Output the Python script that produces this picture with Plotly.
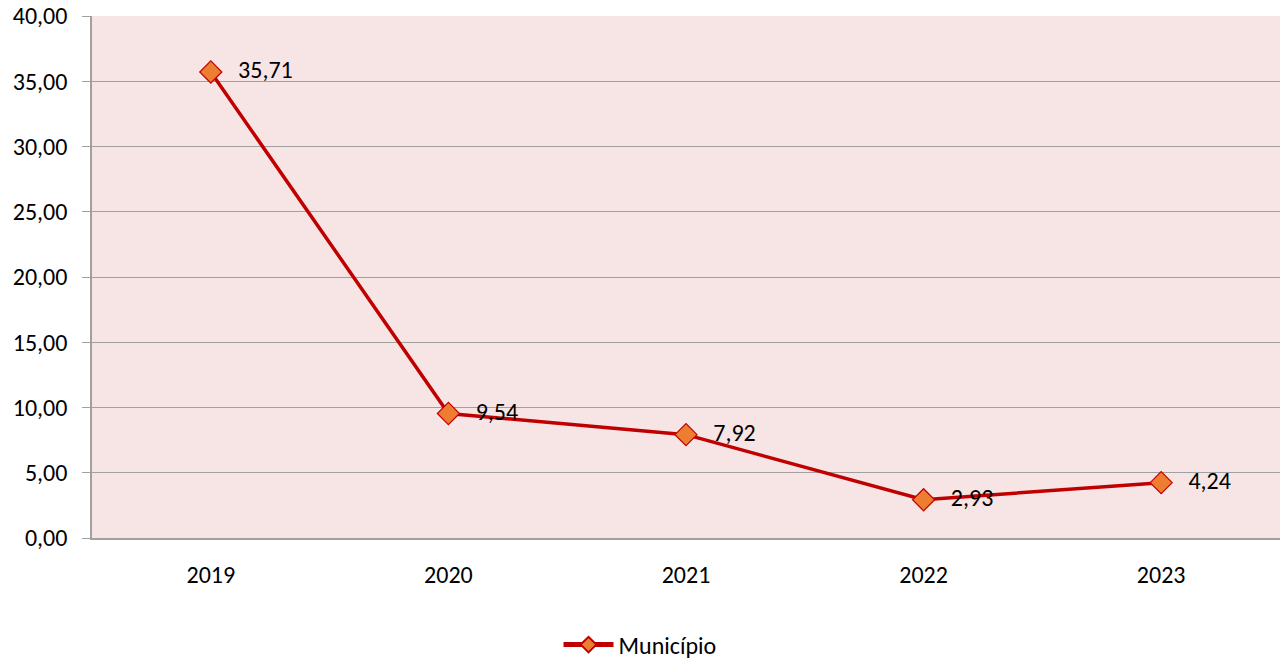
import plotly.graph_objects as go

years = ["2019", "2020", "2021", "2022", "2023"]
values = [35.71, 9.54, 7.92, 2.93, 4.24]
labels = ["35,71", "9,54", "7,92", "2,93", "4,24"]
y_ticks = [0, 5, 10, 15, 20, 25, 30, 35, 40]

fig = go.Figure()
fig.add_trace(go.Scatter(
    x=years, y=values, mode="lines+markers+text", name="Município",
    text=["  \u2009" + t for t in labels], textposition="middle right",
    textfont=dict(size=24, color="#000000"),
    line=dict(color="#C00000", width=3.5),
    marker=dict(symbol="diamond", size=17, color="#ED7D31",
                line=dict(color="#C00000", width=1.2)),
))

fig.update_layout(
    width=1280, height=660,
    margin=dict(l=92, r=0, t=16, b=122, autoexpand=False),
    paper_bgcolor="white", plot_bgcolor="#F7E4E4",
    separators=",.",
    font=dict(family="Carlito, Lato, Open Sans, sans-serif", size=24, color="#000000"),
    showlegend=True,
    legend=dict(orientation="h", xref="container", x=0.5, xanchor="center",
                y=-0.205, yanchor="middle",
                font=dict(size=24), itemwidth=50, itemsizing="constant"),
    xaxis=dict(type="category", range=[-0.5, 4.5], showgrid=False, automargin=False,
               showline=True, linecolor="#A0A0A0", linewidth=1.5,
               ticks="", ticklabelstandoff=14, tickfont=dict(size=24)),
    yaxis=dict(range=[0, 40], tickvals=y_ticks, tickformat=".2f", automargin=False,
               ticklabeloverflow="allow",
               showgrid=True, gridcolor="#A0A0A0", gridwidth=1.2,
               showline=True, linecolor="#A0A0A0", linewidth=1.5,
               ticks="outside", ticklen=8, tickcolor="#A0A0A0", tickwidth=1.2,
               ticklabelstandoff=10,
               zeroline=False, tickfont=dict(size=24)),
)

fig.write_html("out.html", config={"displayModeBar": False},
               post_script="document.body.style.margin='0';document.body.style.overflow='hidden';")
